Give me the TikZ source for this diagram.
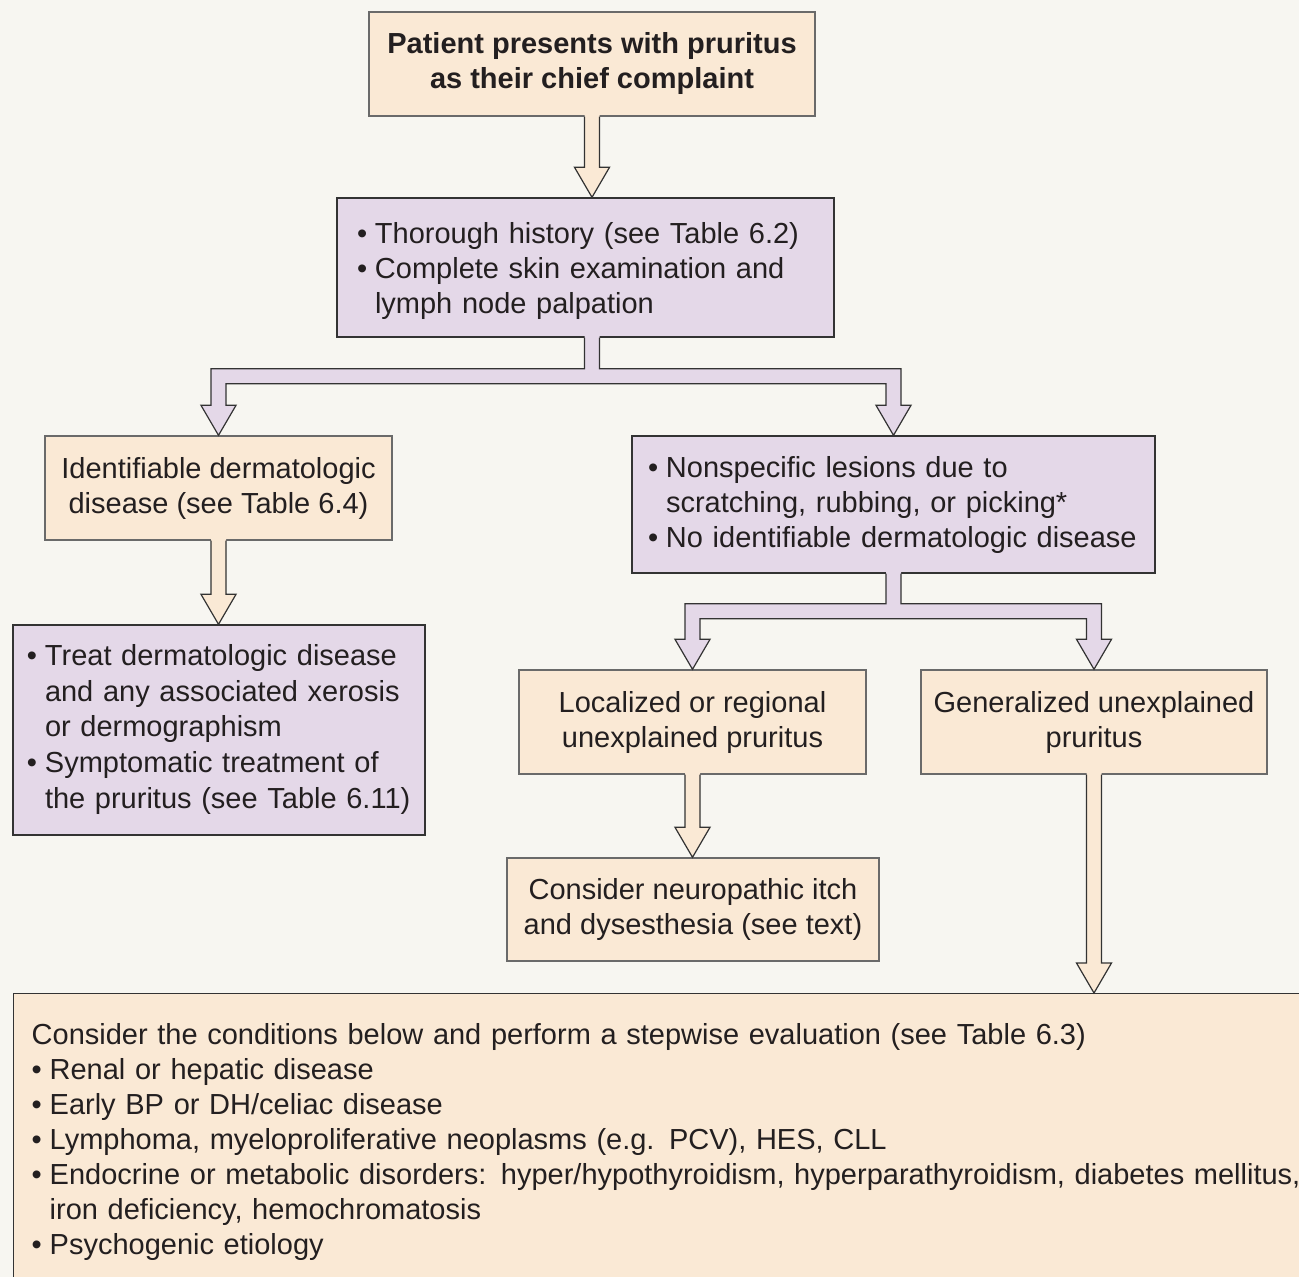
\documentclass[tikz,border=0pt]{standalone}
\usepackage{fontspec}
\setmainfont{Liberation Sans}
\usetikzlibrary{calc}
\definecolor{bgc}{HTML}{F7F6F1}
\definecolor{peach}{HTML}{FAE9D5}
\definecolor{lav}{HTML}{E4D8E8}
\definecolor{pline}{HTML}{6A6A6A}
\definecolor{lline}{HTML}{333333}
\definecolor{txt}{HTML}{231F20}
\newcommand\bul[1]{\par\noindent\hangindent=18pt\hangafter=1\makebox[18pt][l]{\textbullet}#1}
\def\aw{7.5pt}
\def\ah{17.5pt}
\def\al{30pt}
% straight block arrow: #1 start, #2 end, #3 fill, #4 line
\newcommand\sarrow[4]{%
  \fill[#3] let \p1=(#1), \p2=(#2) in
    ({\x1-\aw},{\y1+2pt}) -- ({\x1-\aw},{\y2+\al}) -- ({\x1-\ah},{\y2+\al}) -- (\x1,\y2)
    -- ({\x1+\ah},{\y2+\al}) -- ({\x1+\aw},{\y2+\al}) -- ({\x1+\aw},{\y1+2pt}) -- cycle;
  \draw[#4,line width=1.2pt,line join=miter] let \p1=(#1), \p2=(#2) in
    ({\x1-\aw},{\y1}) -- ({\x1-\aw},{\y2+\al}) -- ({\x1-\ah},{\y2+\al}) -- (\x1,\y2)
    -- ({\x1+\ah},{\y2+\al}) -- ({\x1+\aw},{\y2+\al}) -- ({\x1+\aw},{\y1});
}
% branching block arrow: #1 stem start, #2 left end, #3 right end, #4 drop, #5 fill, #6 line
\newcommand\tarrow[6]{%
  \fill[#5] let \p1=(#1), \p2=(#2), \p3=(#3) in
    ({\x1-\aw},{\y1+2pt}) -- ({\x1-\aw},{\y1-#4}) -- ({\x2-\aw},{\y1-#4})
    -- ({\x2-\aw},{\y2+\al}) -- ({\x2-\ah},{\y2+\al}) -- (\x2,\y2) -- ({\x2+\ah},{\y2+\al}) -- ({\x2+\aw},{\y2+\al})
    -- ({\x2+\aw},{\y1-#4-2*\aw}) -- ({\x3-\aw},{\y1-#4-2*\aw})
    -- ({\x3-\aw},{\y3+\al}) -- ({\x3-\ah},{\y3+\al}) -- (\x3,\y3) -- ({\x3+\ah},{\y3+\al}) -- ({\x3+\aw},{\y3+\al})
    -- ({\x3+\aw},{\y1-#4}) -- ({\x1+\aw},{\y1-#4}) -- ({\x1+\aw},{\y1+2pt}) -- cycle;
  \draw[#6,line width=1.2pt,line join=miter] let \p1=(#1), \p2=(#2), \p3=(#3) in
    ({\x1-\aw},{\y1}) -- ({\x1-\aw},{\y1-#4}) -- ({\x2-\aw},{\y1-#4})
    -- ({\x2-\aw},{\y2+\al}) -- ({\x2-\ah},{\y2+\al}) -- (\x2,\y2) -- ({\x2+\ah},{\y2+\al}) -- ({\x2+\aw},{\y2+\al})
    -- ({\x2+\aw},{\y1-#4-2*\aw}) -- ({\x3-\aw},{\y1-#4-2*\aw})
    -- ({\x3-\aw},{\y3+\al}) -- ({\x3-\ah},{\y3+\al}) -- (\x3,\y3) -- ({\x3+\ah},{\y3+\al}) -- ({\x3+\aw},{\y3+\al})
    -- ({\x3+\aw},{\y1-#4}) -- ({\x1+\aw},{\y1-#4}) -- ({\x1+\aw},{\y1});
}
\tikzset{
  box/.style={rectangle, inner ysep=0pt, text=txt, font=\fontsize{29}{35}\selectfont, line width=1.4pt},
  pbox/.style={box, fill=peach, draw=pline, align=center},
  lbox/.style={box, fill=lav, draw=lline, align=left},
}
\begin{document}
\begin{tikzpicture}[x=1pt,y=-1pt]
\useasboundingbox (0,0) rectangle (1299,1277);
\fill[bgc] (0,0) rectangle (1299,1277);
\clip (0,0) rectangle (1299,1277);

\node[pbox, minimum width=446pt, minimum height=104pt, font=\fontsize{29}{35}\selectfont\bfseries] (b1) at (592,64)
  {Patient presents with pruritus\\as their chief complaint};
\node[lbox, minimum width=497pt, minimum height=139pt, inner xsep=20pt, text width=457pt] (b2) at (585.5,267.5)
  {\bul{Thorough history (see Table 6.2)}\bul{Complete skin examination and\newline lymph node palpation}\par\vspace*{6pt}};
\node[pbox, minimum width=347pt, minimum height=104pt] (b3) at (218.5,488)
  {Identifiable dermatologic\\disease (see Table 6.4)};
\node[lbox, minimum width=523pt, minimum height=137pt, inner xsep=16pt, text width=491pt] (b4) at (893.5,504.5)
  {\bul{Nonspecific lesions due to\newline scratching, rubbing, or picking*}\bul{No identifiable dermatologic disease}\par\vspace*{12pt}};
\node[lbox, minimum width=412pt, minimum height=210pt, inner xsep=14pt, text width=384pt,
      font=\fontsize{29}{35.8}\selectfont] (b5) at (219,730)
  {\bul{Treat dermatologic disease\newline and any associated xerosis\newline or dermographism}\bul{Symptomatic treatment of\newline the pruritus (see Table 6.11)}\par\vspace*{16pt}};
\node[pbox, minimum width=347pt, minimum height=104pt] (b6) at (692.5,722)
  {Localized or regional\\unexplained pruritus};
\node[pbox, minimum width=346pt, minimum height=104pt] (b7) at (1094,722)
  {Generalized unexplained\\pruritus};
\node[pbox, minimum width=372pt, minimum height=103pt] (b8) at (693,909.5)
  {Consider neuropathic itch\\and dysesthesia (see text)};
\node[box, fill=peach, draw=lline, anchor=north west, minimum width=1320pt, minimum height=320pt] (b9) at (13,993) {};
\node[box, anchor=north west, align=left, inner sep=0pt, text width=1270pt] (t9) at (31,1023)
  {Consider the conditions below and perform a stepwise evaluation (see Table 6.3)%
   \bul{Renal or hepatic disease}\bul{Early BP or DH/celiac disease}%
   \bul{Lymphoma, myeloproliferative neoplasms (e.g. PCV), HES, CLL}%
   \bul{Endocrine or metabolic disorders: hyper/hypothyroidism, hyperparathyroidism, diabetes mellitus,\newline iron deficiency, hemochromatosis}%
   \bul{Psychogenic etiology}};

\sarrow{b1.south}{b1.south |- b2.north}{peach}{lline}
\tarrow{b1.south |- b2.south}{b3.north}{b4.north}{31pt}{lav}{lline}
\sarrow{b3.south}{b3.south |- b5.north}{peach}{lline}
\tarrow{b4.south}{b6.north}{b7.north}{30pt}{lav}{lline}
\sarrow{b6.south}{b6.south |- b8.north}{peach}{lline}
\sarrow{b7.south}{b7.south |- b9.north}{peach}{lline}
\end{tikzpicture}
\end{document}
